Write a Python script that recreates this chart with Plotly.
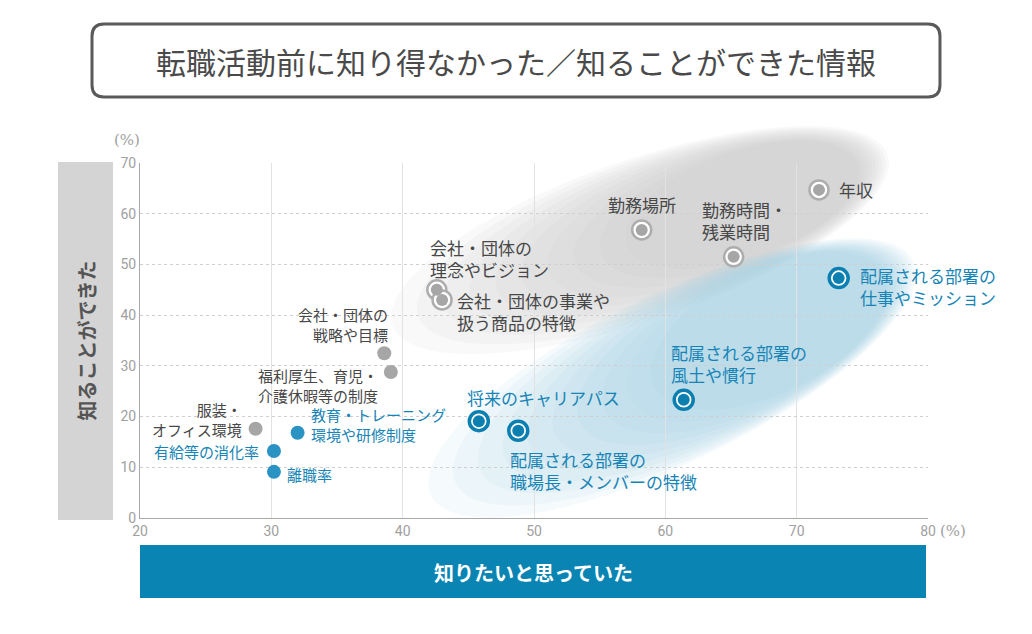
import numpy as np
import plotly.graph_objects as go

# ---------------- data ----------------
gray_big_labels = ["年収", "勤務場所", "勤務時間・<br>残業時間",
                   "会社・団体の<br>理念やビジョン", "会社・団体の事業や<br>扱う商品の特徴"]
gray_big_x = [71.7, 58.2, 65.2, 42.6, 43.0]
gray_big_y = [64.7, 56.8, 51.5, 45.0, 43.0]

gray_small_labels = ["会社・団体の<br>戦略や目標", "福利厚生、育児・<br>介護休暇等の制度", "服装・<br>オフィス環境"]
gray_small_x = [38.6, 39.1, 28.8]
gray_small_y = [32.5, 28.8, 17.6]

blue_big_labels = ["配属される部署の<br>仕事やミッション", "配属される部署の<br>風土や慣行",
                   "将来のキャリアパス", "配属される部署の<br>職場長・メンバーの特徴"]
blue_big_x = [73.2, 61.4, 45.8, 48.8]
blue_big_y = [47.3, 23.3, 19.1, 17.2]

blue_small_labels = ["教育・トレーニング<br>環境や研修制度", "有給等の消化率", "離職率"]
blue_small_x = [32.0, 30.2, 30.2]
blue_small_y = [16.8, 13.2, 9.1]

x_ticks = [20, 30, 40, 50, 60, 70, 80]
y_ticks = [0, 10, 20, 30, 40, 50, 60, 70]

title_text = "転職活動前に知り得なかった／知ることができた情報"
x_title = "知りたいと思っていた"
y_title = "知ることができた"

# ---------------- label styles (xshift, yshift, anchor) ----------------
gray_big_style = [(18, 0, "left"), (0, 25, "center"), (-34, 36, "left"),
                  (-9, 31, "left"), (13, -12, "left")]
gray_small_style = [(6, 29, "right"), (-11, -14, "right"), (-12, 9, "right")]
blue_big_style = [(19, -8, "left"), (-15, 36, "left"), (-14, 24, "left"), (-10, -40, "left")]
blue_small_style = [(11, 8, "left"), (-13, 0, "right"), (11, -3, "left")]

# ---------------- geometry (page pixels; page body has an 8px margin) ----------------
OFF = 8
PAGE_W, PAGE_H = 1032, 634
W_PX, H_PX = PAGE_W - OFF, PAGE_H - OFF
PLOT_X0, PLOT_X1, PLOT_Y0, PLOT_Y1 = 140, 928, 163, 518  # page pixels of plot area
L = PLOT_X0 - OFF
T = PLOT_Y0 - OFF
R = PAGE_W - PLOT_X1
B = PAGE_H - PLOT_Y1
PW = PLOT_X1 - PLOT_X0
PH = PLOT_Y1 - PLOT_Y0


def xp(px):
    return (px - PLOT_X0) / PW


def yp(py):
    return (PLOT_Y1 - py) / PH


def ellipse_path(cx, cy, a, b, ang_deg, n=90):
    t = np.linspace(0, 2 * np.pi, n, endpoint=False)
    ang = np.radians(ang_deg)
    xs = cx + a * np.cos(t) * np.cos(ang) - b * np.sin(t) * np.sin(ang)
    ys = cy - (a * np.cos(t) * np.sin(ang) + b * np.sin(t) * np.cos(ang))
    pts = [f"{xp(x):.4f},{yp(y):.4f}" for x, y in zip(xs, ys)]
    return "M" + " L".join(pts) + " Z"


def rounded_rect(x0, y0, x1, y1, r):
    return (f"M{xp(x0 + r):.4f},{yp(y0):.4f} L{xp(x1 - r):.4f},{yp(y0):.4f} "
            f"Q{xp(x1):.4f},{yp(y0):.4f} {xp(x1):.4f},{yp(y0 + r):.4f} "
            f"L{xp(x1):.4f},{yp(y1 - r):.4f} "
            f"Q{xp(x1):.4f},{yp(y1):.4f} {xp(x1 - r):.4f},{yp(y1):.4f} "
            f"L{xp(x0 + r):.4f},{yp(y1):.4f} "
            f"Q{xp(x0):.4f},{yp(y1):.4f} {xp(x0):.4f},{yp(y1 - r):.4f} "
            f"L{xp(x0):.4f},{yp(y0 + r):.4f} "
            f"Q{xp(x0):.4f},{yp(y0):.4f} {xp(x0 + r):.4f},{yp(y0):.4f} Z")


shapes = []
n_layers = 10
# gray gradient blob
ang = 19
for k in range(n_layers):
    d = 12 * k
    cx = 640 + d * np.cos(np.radians(ang))
    cy = 240 - d * np.sin(np.radians(ang))
    shapes.append(dict(type="path", xref="paper", yref="paper", layer="below",
                       path=ellipse_path(cx, cy, 262 - 1.3 * d, 80 - 0.25 * d, ang),
                       fillcolor="rgba(200,200,200,0.10)", line=dict(width=0)))
# blue gradient blob
ang_b = 26
for k in range(n_layers):
    d = 12 * k
    cx = 672 + d * np.cos(np.radians(ang_b))
    cy = 378 - d * np.sin(np.radians(ang_b))
    shapes.append(dict(type="path", xref="paper", yref="paper", layer="below",
                       path=ellipse_path(cx, cy, 268 - 1.3 * d, 84 - 0.2 * d, ang_b),
                       fillcolor="rgba(160,206,230,0.10)", line=dict(width=0)))

# title box
shapes.append(dict(type="path", xref="paper", yref="paper",
                   path=rounded_rect(92, 24, 940, 97, 12),
                   fillcolor="white", line=dict(color="#5a5a5a", width=3)))
# y title box
shapes.append(dict(type="rect", xref="paper", yref="paper",
                   x0=xp(58), x1=xp(113), y0=yp(520), y1=yp(162),
                   fillcolor="#d4d4d4", line=dict(width=0)))
# x title box
shapes.append(dict(type="rect", xref="paper", yref="paper",
                   x0=xp(140), x1=xp(926), y0=yp(598), y1=yp(545),
                   fillcolor="#0a84b3", line=dict(width=0)))

GRAY = "#a6a6a6"
BLUE = "#0a7fb0"
BLUE_LIGHT = "#2a93c4"
CJK = "Noto Sans CJK JP"

fig = go.Figure()
fig.add_trace(go.Scatter(x=gray_small_x, y=gray_small_y, mode="markers",
                         marker=dict(size=14, color=GRAY, line=dict(width=0)),
                         hoverinfo="skip", showlegend=False))
fig.add_trace(go.Scatter(x=gray_big_x, y=gray_big_y, mode="markers",
                         marker=dict(size=19, color="white", line=dict(width=2.5, color="#adadad")),
                         hoverinfo="skip", showlegend=False))
fig.add_trace(go.Scatter(x=gray_big_x, y=gray_big_y, mode="markers",
                         marker=dict(size=12, color=GRAY, line=dict(width=0)),
                         hoverinfo="skip", showlegend=False))
fig.add_trace(go.Scatter(x=blue_small_x, y=blue_small_y, mode="markers",
                         marker=dict(size=14, color=BLUE_LIGHT, line=dict(width=0)),
                         hoverinfo="skip", showlegend=False))
fig.add_trace(go.Scatter(x=blue_big_x, y=blue_big_y, mode="markers",
                         marker=dict(size=19, color="white", line=dict(width=3.5, color=BLUE)),
                         hoverinfo="skip", showlegend=False))
fig.add_trace(go.Scatter(x=blue_big_x, y=blue_big_y, mode="markers",
                         marker=dict(size=12, color=BLUE, line=dict(width=0)),
                         hoverinfo="skip", showlegend=False))

annotations = []


def add_labels(labels, xs, ys, styles, color, size):
    for lab, x, y, (dx, dy, anc) in zip(labels, xs, ys, styles):
        annotations.append(dict(x=x, y=y, xref="x", yref="y", text=lab, showarrow=False,
                                xanchor=anc, yanchor="middle", align=anc,
                                xshift=dx, yshift=dy,
                                font=dict(family=CJK, size=size, color=color)))


add_labels(gray_big_labels, gray_big_x, gray_big_y, gray_big_style, "#474747", 17)
add_labels(gray_small_labels, gray_small_x, gray_small_y, gray_small_style, "#474747", 15)
add_labels(blue_big_labels, blue_big_x, blue_big_y, blue_big_style, "#1784b5", 17)
add_labels(blue_small_labels, blue_small_x, blue_small_y, blue_small_style, "#1784b5", 15)

annotations.append(dict(x=xp(516), y=yp(61), xref="paper", yref="paper", text=title_text,
                        showarrow=False, xanchor="center", yanchor="middle",
                        font=dict(family=CJK, size=30, color="#4a4a4a")))
annotations.append(dict(x=xp(85.5), y=yp(341), xref="paper", yref="paper", text=f"<b>{y_title}</b>",
                        showarrow=False, textangle=-90, xanchor="center", yanchor="middle",
                        font=dict(family=CJK, size=20, color="#555555")))
annotations.append(dict(x=xp(533), y=yp(572), xref="paper", yref="paper", text=f"<b>{x_title}</b>",
                        showarrow=False, xanchor="center", yanchor="middle",
                        font=dict(family=CJK, size=20, color="white")))
annotations.append(dict(x=xp(127), y=yp(140), xref="paper", yref="paper", text="(%)",
                        showarrow=False, xanchor="center", yanchor="middle",
                        font=dict(family="DejaVu Serif", size=15, color="#a0a0a0")))
annotations.append(dict(x=xp(953), y=yp(531), xref="paper", yref="paper", text="(%)",
                        showarrow=False, xanchor="center", yanchor="middle",
                        font=dict(family="DejaVu Serif", size=15, color="#a0a0a0")))

fig.update_layout(
    width=W_PX, height=H_PX,
    margin=dict(l=L, r=R, t=T, b=B),
    paper_bgcolor="white", plot_bgcolor="rgba(0,0,0,0)",
    shapes=shapes, annotations=annotations,
    showlegend=False,
)
tick_font = dict(family="Liberation Sans Narrow, Roboto, sans-serif", size=14, color="#a0a0a0")
fig.update_xaxes(range=[20, 80], tickvals=x_ticks, ticktext=[str(v) for v in x_ticks],
                 showgrid=True, gridcolor="#e2e2e2", gridwidth=1,
                 showline=True, linecolor="#a8a8a8", linewidth=1,
                 zeroline=False, ticks="", tickfont=tick_font)
fig.update_yaxes(range=[0, 70], tickvals=y_ticks, ticktext=[str(v) for v in y_ticks],
                 showgrid=True, gridcolor="#cfcfcf", gridwidth=1, griddash="dot",
                 showline=True, linecolor="#a8a8a8", linewidth=1,
                 zeroline=False, ticks="", tickfont=tick_font)

fig.write_html("out.html")
